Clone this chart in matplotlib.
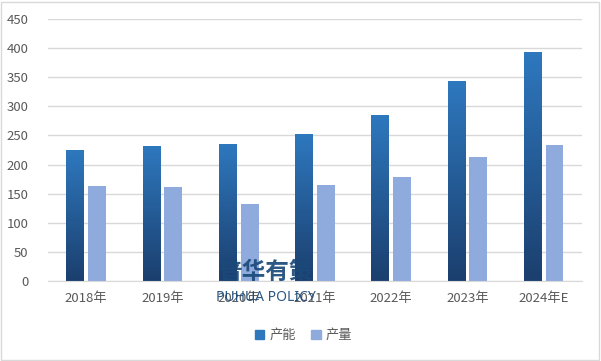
import numpy as np
import matplotlib.pyplot as plt
from matplotlib.colors import LinearSegmentedColormap
from matplotlib.patches import Rectangle

plt.rcParams['font.family'] = ['Noto Sans CJK SC', 'DejaVu Sans']

years = ['2018年', '2019年', '2020年', '2021年', '2022年', '2023年', '2024年E']
capacity = [225, 232, 235, 252, 286, 343, 393]   # 产能
output = [163, 161, 132, 165, 179, 213, 234]     # 产量

dark_top = '#2E78BE'
dark_bottom = '#1B3F6E'
light = '#8FAADC'

fig = plt.figure(figsize=(6.01, 3.61), dpi=100)
ax = fig.add_axes([0.08, 0.222, 0.888, 0.725])

x = np.arange(len(years))
w = 0.235
gap = 0.05
cmap = LinearSegmentedColormap.from_list('bar', [dark_bottom, dark_top])
grad = np.linspace(0, 1, 256).reshape(-1, 1)

bars = ax.bar(x - (w + gap) / 2, capacity, w, color=dark_top, zorder=2, label='产能')
for b in bars:
    x0, h = b.get_x(), b.get_height()
    im = ax.imshow(grad, cmap=cmap, origin='lower', aspect='auto',
                   extent=[x0, x0 + w, 0, h], zorder=2.5)
    im.set_clip_path(b)
ax.bar(x + (w + gap) / 2, output, w, color=light, zorder=2, label='产量')

ax.set_xlim(-0.5, len(years) - 0.5)
ax.set_ylim(0, 450)
ax.set_yticks(range(0, 451, 50))
ax.set_xticks(x)
ax.set_xticklabels(years)
ax.yaxis.grid(True, color='#D9D9D9', linewidth=1, zorder=0)
ax.set_axisbelow(True)
for s in ['top', 'right', 'left']:
    ax.spines[s].set_visible(False)
ax.spines['bottom'].set_color('#D9D9D9')
ax.tick_params(axis='both', length=0, colors='#595959', labelsize=9.5)
ax.tick_params(axis='x', pad=8)
ax.tick_params(axis='y', pad=14)

handles = [Rectangle((0, 0), 1, 1, color=dark_top), Rectangle((0, 0), 1, 1, color=light)]
fig.legend(handles, ['产能', '产量'], loc='center', bbox_to_anchor=(0.505, 0.07), ncol=2,
           frameon=False, fontsize=9.5, handlelength=0.7, handleheight=0.7,
           handletextpad=0.4, columnspacing=1.2, labelcolor='#595959')

# watermark
fig.text(0.443, 0.247, '普华有策', fontsize=17, fontweight='bold', color='#1A4A7A',
         ha='center', va='center', alpha=0.92, zorder=5)
fig.text(0.443, 0.177, 'PUHUA POLICY', fontsize=10, fontweight='bold', color='#1A4A7A',
         ha='center', va='center', alpha=0.92, family='Noto Sans', zorder=5)

fig.add_artist(Rectangle((0.002, 0.003), 0.995, 0.992, transform=fig.transFigure,
                         fill=False, edgecolor='#D9D9D9', linewidth=1))

fig.savefig('out.png', dpi=100)
